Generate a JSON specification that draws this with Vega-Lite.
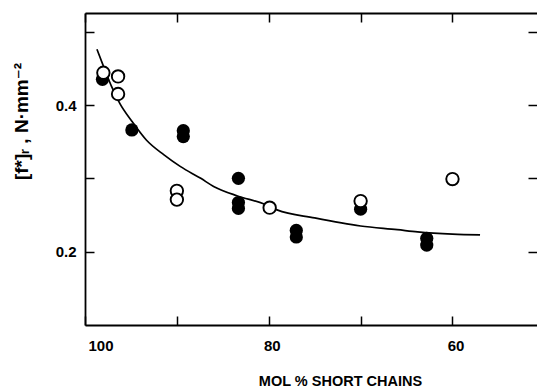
{
  "$schema": "https://vega.github.io/schema/vega-lite/v6.json",
  "width": 452,
  "height": 312,
  "autosize": {"type": "none"},
  "padding": {"left": 85, "top": 13, "right": 0, "bottom": 63},
  "background": "white",
  "config": {
    "view": {"stroke": null},
    "font": "Liberation Sans, DejaVu Sans",
    "axis": {
      "grid": false,
      "domainColor": "black",
      "domainWidth": 1.8,
      "tickColor": "black",
      "tickWidth": 1.5,
      "tickSize": -9,
      "labelColor": "black",
      "labelFont": "Liberation Sans, DejaVu Sans",
      "labelFontWeight": "bold",
      "labelFontSize": 15,
      "titleColor": "black",
      "titleFont": "Liberation Sans, DejaVu Sans",
      "titleFontWeight": "bold"
    }
  },
  "resolve": {"axis": {"x": "independent", "y": "independent"}},
  "datasets": {
    "filled": [
      {"mol": 98.1, "f": 0.435},
      {"mol": 94.9, "f": 0.366},
      {"mol": 89.3, "f": 0.365},
      {"mol": 89.3, "f": 0.357},
      {"mol": 83.3, "f": 0.300},
      {"mol": 83.3, "f": 0.267},
      {"mol": 83.3, "f": 0.259},
      {"mol": 77.0, "f": 0.229},
      {"mol": 77.0, "f": 0.220},
      {"mol": 70.0, "f": 0.258},
      {"mol": 62.8, "f": 0.218},
      {"mol": 62.8, "f": 0.209}
    ],
    "open": [
      {"mol": 98.0, "f": 0.444},
      {"mol": 96.4, "f": 0.439},
      {"mol": 96.4, "f": 0.415},
      {"mol": 90.0, "f": 0.283},
      {"mol": 90.0, "f": 0.271},
      {"mol": 79.9, "f": 0.260},
      {"mol": 70.0, "f": 0.269},
      {"mol": 60.0, "f": 0.299}
    ],
    "curve": [
      {"mol": 98.7, "f": 0.476},
      {"mol": 97.9, "f": 0.450},
      {"mol": 97.1, "f": 0.425},
      {"mol": 96.2, "f": 0.402},
      {"mol": 94.9, "f": 0.378},
      {"mol": 93.3, "f": 0.352},
      {"mol": 91.4, "f": 0.332},
      {"mol": 89.6, "f": 0.316},
      {"mol": 87.4, "f": 0.300},
      {"mol": 86.0, "f": 0.289},
      {"mol": 83.4, "f": 0.276},
      {"mol": 80.5, "f": 0.265},
      {"mol": 79.1, "f": 0.257},
      {"mol": 75.0, "f": 0.246},
      {"mol": 70.0, "f": 0.235},
      {"mol": 66.0, "f": 0.230},
      {"mol": 63.8, "f": 0.227},
      {"mol": 60.0, "f": 0.224},
      {"mol": 57.0, "f": 0.223}
    ]
  },
  "layer": [
    {
      "data": {"name": "curve"},
      "mark": {"type": "line", "color": "black", "strokeWidth": 1.7, "interpolate": "monotone"},
      "encoding": {
        "x": {
          "field": "mol", "type": "quantitative",
          "scale": {"domain": [100, 50.8], "nice": false, "zero": false},
          "axis": {
            "orient": "bottom",
            "values": [100, 90, 80, 70, 60],
            "labelExpr": "datum.value % 20 == 0 ? datum.value : ''",
            "labelPadding": 29,
            "labelOffset": 3,
            "labelBaseline": "middle",
            "title": "MOL % SHORT CHAINS",
            "titleFontSize": 14.5,
            "titleX": 255,
            "titleY": 60,
            "titleBaseline": "alphabetic",
            "titleAnchor": null
          }
        },
        "y": {
          "field": "f", "type": "quantitative",
          "scale": {"domain": [0.1, 0.5255], "nice": false, "zero": false},
          "axis": {
            "orient": "left",
            "values": [0.2, 0.3, 0.4, 0.5],
            "labelExpr": "(round(datum.value*10) % 2 == 0) ? format(datum.value, '.1f') : ''",
            "labelPadding": 18,
            "title": "[f*]ᵣ , N·mm⁻²",
            "titleFontSize": 19,
            "titleX": -58,
            "titleY": 108,
            "titleAngle": -90,
            "titleAlign": "center",
            "titleBaseline": "alphabetic",
            "titleAnchor": null
          }
        }
      }
    },
    {
      "data": {"name": "filled"},
      "mark": {"type": "point", "shape": "circle", "filled": true, "color": "black", "opacity": 1, "size": 175},
      "encoding": {
        "x": {"field": "mol", "type": "quantitative",
          "axis": {"orient": "top", "values": [100, 90, 80, 70, 60], "labels": false, "title": null}},
        "y": {"field": "f", "type": "quantitative",
          "axis": {"orient": "right", "values": [0.2, 0.3, 0.4, 0.5], "labels": false, "domain": false, "title": null}}
      }
    },
    {
      "data": {"name": "open"},
      "mark": {"type": "point", "shape": "circle", "filled": false, "fill": "white", "fillOpacity": 1, "stroke": "black", "strokeWidth": 1.9, "opacity": 1, "size": 155},
      "encoding": {
        "x": {"field": "mol", "type": "quantitative", "axis": null},
        "y": {"field": "f", "type": "quantitative", "axis": null}
      }
    }
  ]
}
